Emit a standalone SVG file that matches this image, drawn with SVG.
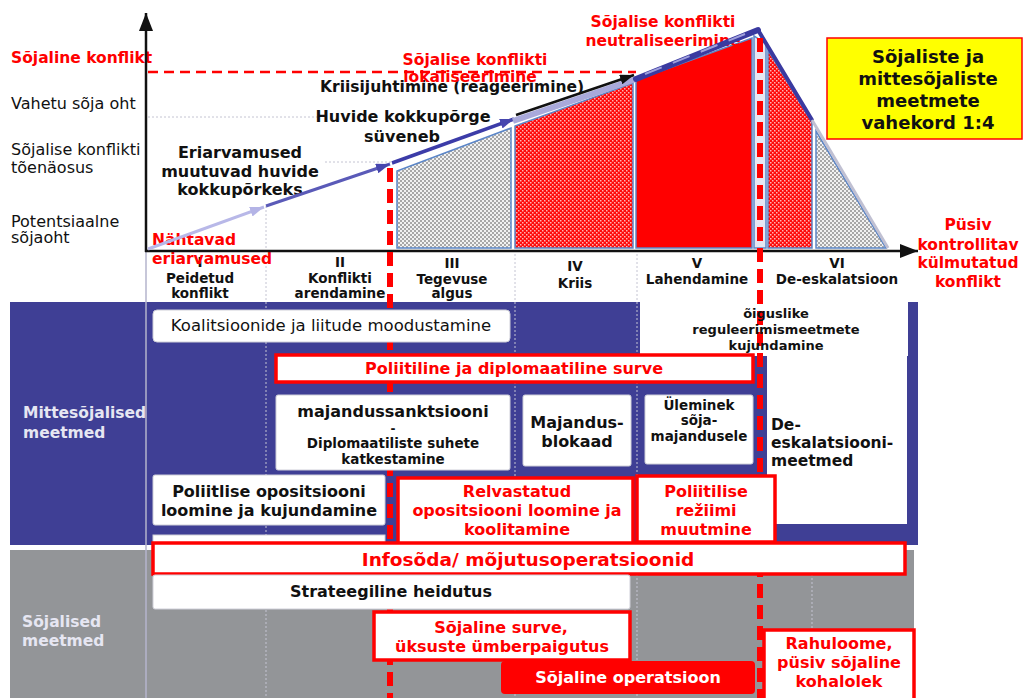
<svg xmlns="http://www.w3.org/2000/svg" width="1028" height="698" viewBox="0 0 1028 698">
<defs>
<style>
text{font-family:"DejaVu Sans","Liberation Sans",sans-serif;font-size:16px}
.b{font-weight:bold}
.c{text-anchor:middle}
.k{fill:#111}
.rd{fill:#ff0000}
.ph{font-weight:bold;font-size:13.5px;fill:#111;text-anchor:middle}
.wb{fill:#fff;stroke:#cfcfd8;stroke-width:1}
.rb{fill:#fff;stroke:#ff0000;stroke-width:3.5}
.dot{stroke:#c4c4d2;stroke-width:1;stroke-dasharray:2 2;fill:none}
.rdash{stroke:#ff0000;stroke-width:6;stroke-dasharray:14 7;fill:none}
.shape{stroke:#5b86c8;stroke-width:1.5}
.side{fill:#e6e6f2;font-weight:bold;font-size:15.5px}
</style>
<pattern id="pGray" width="4" height="4" patternUnits="userSpaceOnUse"><rect width="4" height="4" fill="#f2f2f2"/><rect width="2" height="2" fill="#a8a8a8"/><rect x="2" y="2" width="2" height="2" fill="#a8a8a8"/></pattern>
<pattern id="pRed" width="4" height="4" patternUnits="userSpaceOnUse"><rect width="4" height="4" fill="#ff0a0a"/><rect width="1.5" height="1.5" fill="#ffb4b4"/><rect x="2" y="2" width="1.5" height="1.5" fill="#ffb4b4"/></pattern>
<marker id="mAxis" viewBox="0 0 10 10" refX="10" refY="5" markerWidth="18" markerHeight="14" markerUnits="userSpaceOnUse" orient="auto" preserveAspectRatio="none"><path d="M0,0L10,5L0,10z" fill="#111"/></marker>
<marker id="mLav" viewBox="0 0 10 10" refX="10" refY="5" markerWidth="14" markerHeight="10" markerUnits="userSpaceOnUse" orient="auto" preserveAspectRatio="none"><path d="M0,0L10,5L0,10z" fill="#b4b4e6"/></marker>
<marker id="mBlue" viewBox="0 0 10 10" refX="10" refY="5" markerWidth="14" markerHeight="10" markerUnits="userSpaceOnUse" orient="auto" preserveAspectRatio="none"><path d="M0,0L10,5L0,10z" fill="#4646ae"/></marker>
<marker id="mBlk" viewBox="0 0 10 10" refX="10" refY="5" markerWidth="14" markerHeight="10" markerUnits="userSpaceOnUse" orient="auto" preserveAspectRatio="none"><path d="M0,0L10,5L0,10z" fill="#111"/></marker>
</defs>

<rect x="0" y="0" width="1028" height="698" fill="#fff"/>

<g id="band-nonmilitary">
<rect x="10" y="302" width="908" height="243" fill="#3f3f95"/>
<rect x="640" y="302" width="268" height="54" fill="#fff"/>
<rect x="767" y="355" width="140" height="169" fill="#fff"/>
</g>
<g id="band-military">
<rect x="10" y="550" width="904" height="148" fill="#939598"/>
</g>

<g id="gridlines">
<line x1="146" y1="251" x2="146" y2="698" stroke="#b4b4cc" stroke-width="1.5"/>
<line class="dot" x1="266" y1="206" x2="266" y2="698"/>
<line class="dot" x1="515" y1="250" x2="515" y2="698"/>
<line class="dot" x1="637" y1="250" x2="637" y2="698"/>
<line class="dot" x1="812" y1="550" x2="812" y2="698"/>
<line class="dot" x1="148" y1="117" x2="318" y2="117"/>
<line class="dot" x1="325" y1="162" x2="395" y2="162"/>
<line x1="148" y1="72" x2="636" y2="72" stroke="#ff0000" stroke-width="2.5" stroke-dasharray="10 6"/>
</g>

<g id="phase-shapes">
<polygon class="shape" points="397,248 397,171 511,128 511,248" fill="url(#pGray)"/>
<polygon class="shape" points="515,248 515,126 633,83 633,248" fill="url(#pRed)"/>
<polygon class="shape" points="636,248 636,80 752,38 752,248" fill="#ff0000"/>
<polygon class="shape" points="754,248 754,36 766,44 766,248" fill="#e6e6f2"/>
<polygon class="shape" points="768,248 768,50 812,122 812,248" fill="url(#pRed)"/>
<polygon class="shape" points="816,248 816,131 886,248" fill="url(#pGray)"/>
</g>

<g id="chart-labels">
<text class="b rd" x="11" y="63" style="font-size:15.5px">Sõjaline konflikt</text>
<text class="k" x="11" y="109">Vahetu sõja oht</text>
<text class="k" x="11" y="155">Sõjalise konflikti</text>
<text class="k" x="11" y="173">tõenäosus</text>
<text class="k" x="11" y="227">Potentsiaalne</text>
<text class="k" x="11" y="243">sõjaoht</text>
<text class="b k c" x="240" y="158">Eriarvamused</text>
<text class="b k c" x="240" y="177">muutuvad huvide</text>
<text class="b k c" x="240" y="195">kokkupõrkeks</text>
<text class="b k c" x="403" y="122">Huvide kokkupõrge</text>
<text class="b k c" x="402" y="142">süveneb</text>
<text class="b k" x="320" y="92" style="font-size:15.5px">Kriisijuhtimine (reageerimine)</text>
<text class="b rd c" x="475" y="65" style="font-size:15.5px">Sõjalise konflikti</text>
<text class="b rd c" x="470" y="82" style="font-size:15.5px">lokaliseerimine</text>
<text class="b rd c" x="663" y="27" style="font-size:15.5px">Sõjalise konflikti</text>
<text class="b rd c" x="663" y="46" style="font-size:15.5px">neutraliseerimine</text>
<text class="ph" x="200" y="267">I</text>
<text class="b rd" x="152" y="245" style="font-size:15.5px">Nähtavad</text>
<text class="b rd" x="152" y="264" style="font-size:15.5px">eriarvamused</text>
<text class="ph" x="200" y="283">Peidetud</text>
<text class="ph" x="200" y="298">konflikt</text>
<text class="ph" x="340" y="267">II</text>
<text class="ph" x="340" y="283">Konflikti</text>
<text class="ph" x="340" y="298">arendamine</text>
<text class="ph" x="452" y="268">III</text>
<text class="ph" x="452" y="284">Tegevuse</text>
<text class="ph" x="452" y="298">algus</text>
<text class="ph" x="575" y="271">IV</text>
<text class="ph" x="575" y="288">Kriis</text>
<text class="ph" x="697" y="268">V</text>
<text class="ph" x="697" y="284">Lahendamine</text>
<text class="ph" x="837" y="268">VI</text>
<text class="ph" x="837" y="284">De-eskalatsioon</text>
<text class="b rd c" x="968" y="230" style="font-size:15.5px">Püsiv</text>
<text class="b rd c" x="968" y="250" style="font-size:15.5px">kontrollitav</text>
<text class="b rd c" x="968" y="268" style="font-size:15.5px">külmutatud</text>
<text class="b rd c" x="968" y="287" style="font-size:15.5px">konflikt</text>
</g>

<g id="node-ratio">
<rect x="827" y="38" width="195" height="101" fill="#ffff00" stroke="#ff0000" stroke-width="1.5"/>
<text class="b k c" x="928" y="63" style="font-size:18px">Sõjaliste ja</text>
<text class="b k c" x="928" y="85" style="font-size:18px">mittesõjaliste</text>
<text class="b k c" x="928" y="107" style="font-size:18px">meetmete</text>
<text class="b k c" x="928" y="129" style="font-size:18px">vahekord 1:4</text>
</g>

<g id="connectors">
<line x1="146" y1="252" x2="146" y2="13" stroke="#111" stroke-width="2.5" marker-end="url(#mAxis)"/>
<line x1="145" y1="251" x2="918" y2="251" stroke="#111" stroke-width="2.5" marker-end="url(#mAxis)"/>
<line x1="148" y1="249" x2="264" y2="207" stroke="#b8b8e8" stroke-width="3" marker-end="url(#mLav)"/>
<line x1="266" y1="206" x2="390" y2="164" stroke="#5a5ab8" stroke-width="3" marker-end="url(#mBlue)"/>
<line x1="392" y1="163" x2="514" y2="119" stroke="#3c3ca8" stroke-width="3.5" marker-end="url(#mBlue)"/>
<line x1="513" y1="121" x2="636" y2="79" stroke="#a9a9db" stroke-width="6"/>
<line x1="516" y1="115" x2="634" y2="75" stroke="#111" stroke-width="2.5" marker-end="url(#mBlk)"/>
<line x1="636" y1="79" x2="758" y2="30" stroke="#3a3aa0" stroke-width="6" stroke-linecap="round"/>
<line x1="645" y1="74" x2="745" y2="34" stroke="#a0a0dc" stroke-width="2" stroke-dasharray="18 12"/>
<line x1="758" y1="30" x2="812" y2="120" stroke="#3a3aa0" stroke-width="4" stroke-linecap="round"/>
<line x1="812" y1="120" x2="888" y2="248" stroke="#c0c0d2" stroke-width="3"/>
</g>

<g id="red-dividers">
<line class="rdash" x1="390" y1="168" x2="390" y2="698"/>
<line class="rdash" x1="760" y1="38" x2="760" y2="698"/>
</g>

<g id="side-labels">
<text class="side" x="23" y="418">Mittesõjalised</text>
<text class="side" x="23" y="438">meetmed</text>
<text class="side" x="22" y="627">Sõjalised</text>
<text class="side" x="22" y="646">meetmed</text>
</g>

<g id="node-oiguslike">
<text class="b k c" x="776" y="318" style="font-size:13px">õiguslike</text>
<text class="b k c" x="776" y="334" style="font-size:13px">reguleerimismeetmete</text>
<text class="b k c" x="776" y="350" style="font-size:13px">kujundamine</text>
</g>

<g id="node-koalitsioonid">
<rect class="wb" x="153" y="310" width="357" height="32" rx="4"/>
<text class="k c" x="331" y="331" style="font-size:16.5px">Koalitsioonide ja liitude moodustamine</text>
</g>

<g id="node-poliitiline-surve">
<rect class="rb" x="276" y="355" width="477" height="27"/>
<text class="b rd c" x="514" y="374">Poliitiline ja diplomaatiline surve</text>
</g>

<g id="node-sanktsioonid">
<rect class="wb" x="276" y="395" width="234" height="75" rx="2"/>
<text class="b k c" x="393" y="417">majandussanktsiooni</text>
<text class="b k c" x="393" y="433" style="font-size:12px">-</text>
<text class="b k c" x="393" y="448" style="font-size:13.5px">Diplomaatiliste suhete</text>
<text class="b k c" x="393" y="464" style="font-size:13.5px">katkestamine</text>
</g>

<g id="node-blokaad">
<rect class="wb" x="523" y="395" width="108" height="71" rx="2"/>
<text class="b k c" x="577" y="428">Majandus-</text>
<text class="b k c" x="577" y="447">blokaad</text>
</g>

<g id="node-ylemine">
<rect class="wb" x="645" y="395" width="108" height="69" rx="2"/>
<text class="b k c" x="699" y="410" style="font-size:13.5px">Üleminek</text>
<text class="b k c" x="699" y="425" style="font-size:13.5px">sõja-</text>
<text class="b k c" x="699" y="441" style="font-size:13.5px">majandusele</text>
</g>

<g id="node-deeskalatsioon">
<text class="b k" x="771" y="430" style="font-size:15.5px">De-</text>
<text class="b k" x="771" y="448" style="font-size:15.5px">eskalatsiooni-</text>
<text class="b k" x="771" y="466" style="font-size:15.5px">meetmed</text>
</g>

<g id="node-opositsioon">
<rect class="wb" x="153" y="475" width="232" height="50" rx="2"/>
<text class="b k c" x="269" y="497">Poliitlise opositsiooni</text>
<text class="b k c" x="269" y="516">loomine ja kujundamine</text>
<rect class="wb" x="153" y="535" width="232" height="12"/>
</g>

<g id="node-relvastatud">
<rect class="rb" x="398" y="478" width="235" height="66"/>
<text class="b rd c" x="517" y="497">Relvastatud</text>
<text class="b rd c" x="517" y="516">opositsiooni loomine ja</text>
<text class="b rd c" x="517" y="535">koolitamine</text>
</g>

<g id="node-reziim">
<rect class="rb" x="637" y="476" width="138" height="66"/>
<text class="b rd c" x="706" y="497">Poliitilise</text>
<text class="b rd c" x="706" y="516">režiimi</text>
<text class="b rd c" x="706" y="535">muutmine</text>
</g>

<g id="node-infosoda">
<rect class="rb" x="153" y="543" width="752" height="31"/>
<text class="b rd c" x="528" y="566" style="font-size:18.5px">Infosõda/ mõjutusoperatsioonid</text>
</g>

<g id="node-heidutus">
<rect class="wb" x="153" y="575" width="477" height="34" rx="2"/>
<text class="b k c" x="391" y="597">Strateegiline heidutus</text>
</g>

<g id="node-surve">
<rect class="rb" x="374" y="612" width="256" height="48"/>
<text class="b rd c" x="501" y="633">Sõjaline surve,</text>
<text class="b rd c" x="502" y="652">üksuste ümberpaigutus</text>
</g>

<g id="node-operatsioon">
<rect x="501" y="661" width="254" height="33" rx="4" fill="#ff0000"/>
<text class="b c" x="628" y="683" fill="#fff">Sõjaline operatsioon</text>
</g>

<g id="node-rahuloome">
<rect class="rb" x="764" y="630" width="150" height="70"/>
<text class="b rd c" x="839" y="649">Rahuloome,</text>
<text class="b rd c" x="839" y="668">püsiv sõjaline</text>
<text class="b rd c" x="839" y="687">kohalolek</text>
</g>
</svg>
